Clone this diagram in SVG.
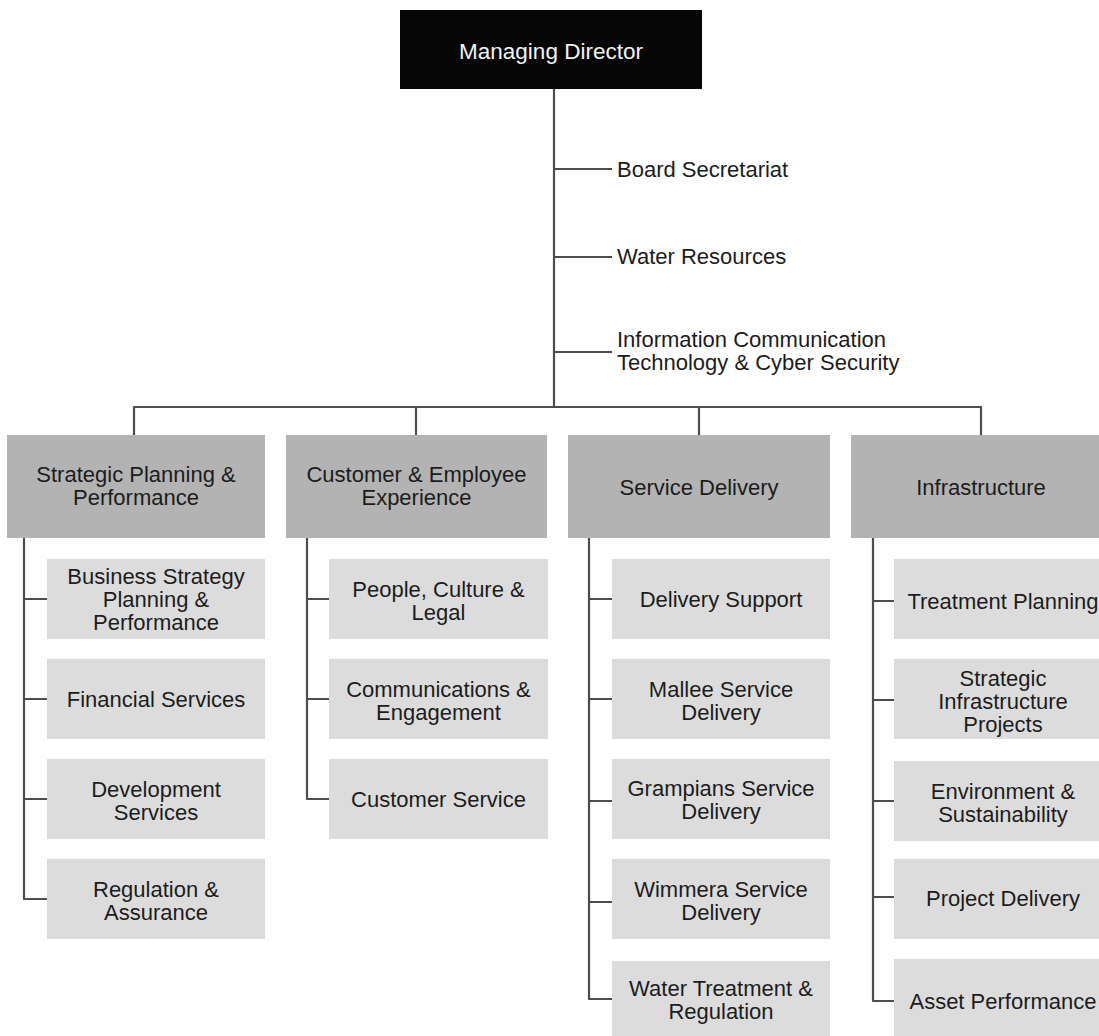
<svg xmlns="http://www.w3.org/2000/svg" width="1099" height="1036" viewBox="0 0 1099 1036">
<style>
  text { font-family: "Liberation Sans", Arial, sans-serif; font-size: 22px; fill: #1c1c1c; }
  .c { text-anchor: middle; }
  .title { fill: #f2f2f2; font-size: 22.5px; }
  .md { fill: #060606; }
  .l2 { fill: #b3b3b3; }
  .l3 { fill: #dcdcdc; }
  .ln { fill: none; stroke: #4d4d4d; stroke-width: 2.2; stroke-linejoin: round; }
</style>
<rect width="1099" height="1036" fill="#ffffff"/>

<g id="connectors">
  <path class="ln" d="M554 89 V407"/>
  <path class="ln" d="M554 169 H612 M554 257 H612 M554 352 H612"/>
  <path class="ln" d="M134 435 V407 H981 V435 M416 407 V435 M699 407 V435"/>
  <path class="ln" d="M24 538 V899 H47 M24 599 H47 M24 699 H47 M24 799 H47"/>
  <path class="ln" d="M307 538 V799 H329 M307 599 H329 M307 699 H329"/>
  <path class="ln" d="M589 538 V999 H612 M589 599 H612 M589 699 H612 M589 801 H612 M589 902 H612"/>
  <path class="ln" d="M873 538 V1001 H894 M873 601 H894 M873 700 H894 M873 801 H894 M873 897 H894"/>
</g>

<g id="managing-director">
  <rect class="md" x="400" y="10" width="302" height="79"/>
  <text class="c title" x="551" y="59">Managing Director</text>
</g>

<g id="board-secretariat"><text x="617" y="177">Board Secretariat</text></g>
<g id="water-resources"><text x="617" y="264">Water Resources</text></g>
<g id="ict-cyber"><text x="617" y="347">Information Communication</text><text x="617" y="370">Technology &amp; Cyber Security</text></g>

<g id="strategic-planning">
  <rect class="l2" x="7" y="435" width="258" height="103"/>
  <text class="c" x="136" y="482">Strategic Planning &amp;</text>
  <text class="c" x="136" y="505">Performance</text>
</g>
<g id="customer-employee">
  <rect class="l2" x="286" y="435" width="261" height="103"/>
  <text class="c" x="416.5" y="482">Customer &amp; Employee</text>
  <text class="c" x="416.5" y="505">Experience</text>
</g>
<g id="service-delivery">
  <rect class="l2" x="568" y="435" width="262" height="103"/>
  <text class="c" x="699" y="495">Service Delivery</text>
</g>
<g id="infrastructure">
  <rect class="l2" x="851" y="435" width="260" height="103"/>
  <text class="c" x="981" y="495">Infrastructure</text>
</g>

<g id="business-strategy">
  <rect class="l3" x="47" y="559" width="218" height="80"/>
  <text class="c" x="156" y="584">Business Strategy</text>
  <text class="c" x="156" y="607">Planning &amp;</text>
  <text class="c" x="156" y="630">Performance</text>
</g>
<g id="financial-services">
  <rect class="l3" x="47" y="659" width="218" height="80"/>
  <text class="c" x="156" y="707">Financial Services</text>
</g>
<g id="development-services">
  <rect class="l3" x="47" y="759" width="218" height="80"/>
  <text class="c" x="156" y="797">Development</text>
  <text class="c" x="156" y="820">Services</text>
</g>
<g id="regulation-assurance">
  <rect class="l3" x="47" y="859" width="218" height="80"/>
  <text class="c" x="156" y="897">Regulation &amp;</text>
  <text class="c" x="156" y="920">Assurance</text>
</g>

<g id="people-culture-legal">
  <rect class="l3" x="329" y="559" width="219" height="80"/>
  <text class="c" x="438.5" y="597">People, Culture &amp;</text>
  <text class="c" x="438.5" y="620">Legal</text>
</g>
<g id="communications-engagement">
  <rect class="l3" x="329" y="659" width="219" height="80"/>
  <text class="c" x="438.5" y="697">Communications &amp;</text>
  <text class="c" x="438.5" y="720">Engagement</text>
</g>
<g id="customer-service">
  <rect class="l3" x="329" y="759" width="219" height="80"/>
  <text class="c" x="438.5" y="807">Customer Service</text>
</g>

<g id="delivery-support">
  <rect class="l3" x="612" y="559" width="218" height="80"/>
  <text class="c" x="721" y="607">Delivery Support</text>
</g>
<g id="mallee-service-delivery">
  <rect class="l3" x="612" y="659" width="218" height="80"/>
  <text class="c" x="721" y="697">Mallee Service</text>
  <text class="c" x="721" y="720">Delivery</text>
</g>
<g id="grampians-service-delivery">
  <rect class="l3" x="612" y="759" width="218" height="80"/>
  <text class="c" x="721" y="796">Grampians Service</text>
  <text class="c" x="721" y="819">Delivery</text>
</g>
<g id="wimmera-service-delivery">
  <rect class="l3" x="612" y="859" width="218" height="80"/>
  <text class="c" x="721" y="897">Wimmera Service</text>
  <text class="c" x="721" y="920">Delivery</text>
</g>
<g id="water-treatment-regulation">
  <rect class="l3" x="612" y="961" width="218" height="80"/>
  <text class="c" x="721" y="996">Water Treatment &amp;</text>
  <text class="c" x="721" y="1019">Regulation</text>
</g>

<g id="treatment-planning">
  <rect class="l3" x="894" y="559" width="218" height="80"/>
  <text class="c" x="1003" y="609">Treatment Planning</text>
</g>
<g id="strategic-infrastructure-projects">
  <rect class="l3" x="894" y="659" width="218" height="80"/>
  <text class="c" x="1003" y="686">Strategic</text>
  <text class="c" x="1003" y="709">Infrastructure</text>
  <text class="c" x="1003" y="732">Projects</text>
</g>
<g id="environment-sustainability">
  <rect class="l3" x="894" y="761" width="218" height="80"/>
  <text class="c" x="1003" y="799">Environment &amp;</text>
  <text class="c" x="1003" y="822">Sustainability</text>
</g>
<g id="project-delivery">
  <rect class="l3" x="894" y="859" width="218" height="80"/>
  <text class="c" x="1003" y="906">Project Delivery</text>
</g>
<g id="asset-performance">
  <rect class="l3" x="894" y="959" width="218" height="80"/>
  <text class="c" x="1003" y="1009">Asset Performance</text>
</g>
</svg>
